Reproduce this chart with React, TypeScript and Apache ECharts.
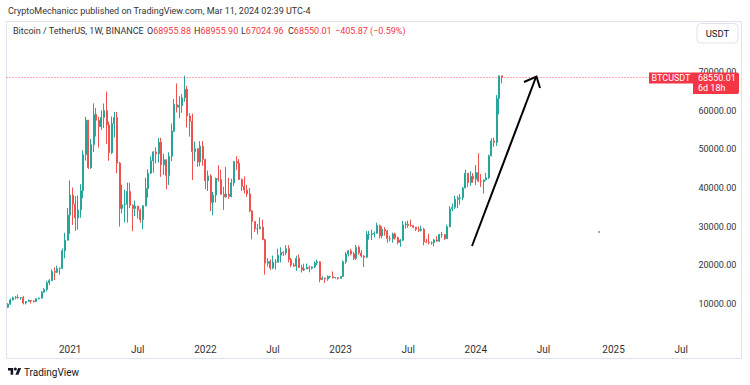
import React, { useEffect, useRef } from "react";
import * as echarts from "echarts";

// ---- data (weekly candles, Binance BTCUSDT) : [open, close, low, high]
const START_WEEK_UTC = Date.UTC(2020, 6, 20); // Monday 2020-07-20
const TOTAL_WEEKS = 265; // axis runs into 2025

const ohlc2020 = [
  [9160, 9930, 9030, 10200], [9930, 11050, 9900, 11450], [11050, 11650, 10950, 11900],
  [11650, 11750, 11200, 12100], [11750, 11650, 11350, 12470], [11650, 11650, 11100, 11800],
  [11650, 10250, 9900, 12090], [10250, 10650, 9880, 10600], [10650, 10930, 10630, 11180],
  [10930, 10770, 10140, 10980], [10770, 10670, 10370, 10960], [10670, 11370, 10520, 11500],
  [11370, 11500, 11180, 11720], [11500, 13030, 11400, 13350], [13030, 13760, 12950, 14100],
  [13760, 15480, 13200, 15960], [15480, 16050, 14860, 16480], [16050, 18400, 15900, 18950],
  [18400, 18180, 16200, 19480], [18180, 19150, 18000, 19900], [19150, 19270, 17580, 19420],
  [19270, 23750, 19000, 24300], [23750, 26500, 21800, 28400], [26500, 33000, 26400, 34800],
];
const ohlc2021 = [
  [33000, 38150, 28130, 41950], [38150, 35800, 30420, 40100], [35800, 32250, 28850, 37850],
  [32250, 34300, 29250, 38000], [34300, 39250, 32300, 40950], [39250, 48600, 37350, 49700],
  [48600, 57500, 47050, 58350], [57500, 45200, 44900, 57550], [45200, 51200, 44950, 52650],
  [51200, 59000, 49250, 61850], [59000, 57500, 53300, 60650], [57500, 55800, 50400, 58400],
  [55800, 58200, 55000, 60000], [58200, 60000, 55500, 61800], [60000, 56250, 51300, 64900],
  [56250, 49100, 47000, 57100], [49100, 56600, 48750, 58450], [56600, 58200, 53050, 59650],
  [58200, 46400, 43800, 59600], [46400, 34700, 30000, 46700], [34700, 35650, 33400, 40850],
  [35650, 35800, 31100, 39500], [35800, 39100, 31000, 41350], [39100, 35500, 34800, 41300],
  [35500, 34700, 28800, 35750], [34700, 35300, 32700, 36700], [35300, 34250, 32100, 35300],
  [34250, 31800, 31000, 34650], [31800, 35400, 29300, 34800], [35400, 39850, 35200, 42600],
  [39850, 43800, 37500, 44800], [43800, 47000, 43600, 48150], [47000, 49300, 43950, 49500],
  [49300, 48800, 46300, 50500], [48800, 51800, 46500, 52950], [51800, 46000, 42850, 52950],
  [46000, 47250, 43350, 48850], [47250, 43200, 39600, 47350], [43200, 48200, 40750, 49200],
  [48200, 54650, 46950, 56600], [54650, 61550, 54400, 62950], [61550, 60850, 59500, 67000],
  [60850, 61300, 58000, 63700], [61300, 63300, 59400, 64300], [63300, 65500, 62300, 69000],
  [65500, 58600, 55600, 66400], [58600, 57250, 53250, 59300], [57250, 49400, 42000, 59200],
  [49400, 50100, 46900, 51950], [50100, 46700, 45450, 50200], [46700, 50800, 45550, 52100],
  [50800, 47300, 45700, 52100],
];
const ohlc2022 = [
  [47300, 41850, 39650, 47550], [41850, 43100, 39200, 44500], [43100, 36250, 34000, 43500],
  [36250, 38150, 32900, 38950], [38150, 42400, 36250, 42650], [42400, 42200, 41650, 45850],
  [42200, 38350, 39450, 44750], [38350, 37700, 34300, 40300], [37700, 38400, 37450, 45400],
  [38400, 37800, 37150, 42600], [37800, 41300, 37550, 42350], [41300, 46800, 40450, 46900],
  [46800, 46400, 44650, 48200], [46400, 42150, 42100, 47450], [42150, 40400, 39200, 42450],
  [40400, 39450, 38550, 42950], [39450, 38450, 37700, 40800], [38450, 34050, 33700, 40000],
  [34050, 31300, 26700, 34250], [31300, 29450, 28650, 31300], [29450, 29450, 28000, 30650],
  [29450, 29900, 29300, 32400], [29900, 26600, 26550, 31800], [26600, 20550, 17600, 26900],
  [20550, 21000, 19650, 21850], [21000, 19300, 18800, 21550], [19300, 20800, 19000, 22500],
  [20800, 20800, 18900, 21600], [20800, 22600, 20750, 24300], [22600, 23300, 20700, 24650],
  [23300, 23200, 22400, 23650], [23200, 24300, 22650, 25200], [24300, 21500, 20750, 25200],
  [21500, 20050, 19500, 21900], [20050, 19800, 19550, 20600], [19800, 21800, 18550, 22500],
  [21800, 19400, 19300, 22800], [19400, 18800, 18150, 20150], [18800, 19050, 18500, 20400],
  [19050, 19400, 19050, 20450], [19400, 19250, 18200, 19950], [19250, 19550, 18900, 19700],
  [19550, 20600, 19250, 21000], [20600, 20900, 20050, 21450], [20900, 16300, 15600, 21050],
  [16300, 16700, 16250, 17200], [16700, 16450, 15450, 16800], [16450, 17100, 16000, 17400],
  [17100, 17100, 16700, 17300], [17100, 16800, 16550, 18400], [16800, 16850, 16550, 16950],
  [16850, 16600, 16300, 16950],
];
const ohlc2023 = [
  [16600, 17100, 16500, 17200], [17100, 20900, 17100, 21250], [20900, 22900, 20400, 23400],
  [22900, 23750, 22300, 23950], [23750, 22950, 22550, 24250], [22950, 21800, 21350, 23450],
  [21800, 24650, 21400, 25250], [24650, 23200, 22750, 25100], [23200, 22400, 21950, 23900],
  [22400, 22100, 19550, 22600], [22100, 27950, 21900, 28850], [27950, 27950, 26600, 28900],
  [27950, 28150, 26550, 29200], [28150, 28300, 27200, 28750], [28300, 30300, 28150, 31000],
  [30300, 27600, 26950, 30500], [27600, 29250, 26950, 30050], [29250, 28850, 27650, 29850],
  [28850, 26900, 25800, 29150], [26900, 26850, 26150, 27650], [26850, 28100, 25850, 28450],
  [28100, 27100, 26600, 28450], [27100, 25900, 25350, 27400], [25900, 26500, 24800, 26800],
  [26500, 30450, 26250, 31450], [30450, 30600, 29500, 31300], [30600, 30300, 29700, 31550],
  [30300, 30250, 29950, 31800], [30250, 29850, 29550, 30350], [29850, 29300, 28850, 29950],
  [29300, 29050, 28600, 30050], [29050, 29300, 28750, 30250], [29300, 26100, 25150, 29700],
  [26100, 26000, 25750, 26800], [26000, 25850, 25400, 28150], [25850, 25850, 25350, 26150],
  [25850, 26550, 24900, 26850], [26550, 26250, 26000, 27500], [26250, 27950, 26050, 28050],
  [27950, 27950, 27150, 28600], [27950, 26850, 26550, 28000], [26850, 29950, 26850, 30500],
  [29950, 34550, 29850, 35300], [34550, 35000, 33950, 35950], [35000, 37050, 34500, 38000],
  [37050, 37350, 34800, 37950], [37350, 37450, 35650, 38450], [37450, 39950, 36800, 40250],
  [39950, 43800, 39950, 44700], [43800, 41350, 40200, 43850], [41350, 43000, 40550, 44300],
  [43000, 42300, 41300, 43800],
];
const ohlc2024 = [
  [42300, 43950, 40750, 45900], [43950, 41750, 41500, 48950], [41750, 41600, 40250, 43600],
  [41600, 42050, 38550, 42200], [42050, 42600, 41900, 43900], [42600, 48300, 42300, 48600],
  [48300, 52150, 48150, 52800], [52150, 51750, 50600, 52950], [51750, 63100, 50850, 64000],
  [63100, 68955.88, 59000, 69000], [68955.88, 68550.01, 67024.96, 68955.9],
];

const headerText = "CryptoMechanicc published on TradingView.com, Mar 11, 2024 02:39 UTC-4";
const symbolText = "Bitcoin / TetherUS, 1W, BINANCE";
const lastOpen = "68955.88";
const lastHigh = "68955.90";
const lastLow = "67024.96";
const lastClose = 68550.01;
const lastChange = "\u2212405.87 (\u22120.59%)";
const countdown = "6d 18h";

const UP = "#26a69a";
const DOWN = "#ef5350";
const RED = "#f23645";
const FONT = "Roboto, 'Noto Sans', sans-serif";

const TV_LOGO = "M14 22H7V11H0V4h14v18zM28 22h-8l7.5-18h8L28 22z";
let logoRegistered = false;

export default function App() {
  const ref = useRef<HTMLDivElement>(null);
  useEffect(() => {
    document.body.style.margin = "0";
    if (!logoRegistered) {
      echarts.graphic.registerShape("tvlogo", echarts.graphic.extendPath(TV_LOGO, {}));
      logoRegistered = true;
    }
    const chart = echarts.init(ref.current!, null, { renderer: "svg" });

    const weeks: string[] = [];
    for (let i = 0; i < TOTAL_WEEKS; i++) {
      weeks.push(new Date(START_WEEK_UTC + i * 7 * 86400000).toISOString().slice(0, 10));
    }
    const candles = [...ohlc2020, ...ohlc2021, ...ohlc2022, ...ohlc2023, ...ohlc2024];

    const isLabel = (v: string) => {
      const m = v.slice(5, 7);
      const d = +v.slice(8, 10);
      return d <= 7 && (m === "01" || m === "07");
    };

    chart.setOption({
      animation: false,
      grid: { left: 6.5, right: 54.5, top: 33.1, bottom: 42.3 },
      xAxis: {
        type: "category",
        data: weeks,
        boundaryGap: true,
        axisLine: { show: false },
        axisTick: { show: false },
        splitLine: { show: false },
        axisLabel: {
          interval: (_i: number, v: string) => isLabel(v),
          formatter: (v: string) => (v.slice(5, 7) === "01" ? v.slice(0, 4) : "Jul"),
          color: "#333",
          fontSize: 10,
          fontFamily: FONT,
          margin: 2,
        },
      },
      yAxis: {
        type: "value",
        position: "right",
        min: 0,
        max: 80000,
        interval: 10000,
        axisLine: { show: false },
        axisTick: { show: false },
        splitLine: { show: false },
        axisLabel: {
          showMinLabel: false,
          showMaxLabel: false,
          formatter: (v: number) => v.toFixed(2),
          color: "#333",
          fontSize: 9,
          fontFamily: FONT,
          margin: 3,
          align: "left",
        },
      },
      series: [
        {
          type: "candlestick",
          data: candles,
          barWidth: 1.6,
          itemStyle: {
            color: UP,
            color0: DOWN,
            borderColor: UP,
            borderColor0: DOWN,
            borderWidth: 1,
          },
          markLine: {
            silent: true,
            symbol: ["none", "none"],
            label: { show: false },
            lineStyle: { color: RED, type: [1, 2], width: 1, opacity: 0.8 },
            data: [{ yAxis: lastClose }],
          },
        },
      ],
    });

    const py = chart.convertToPixel({ yAxisIndex: 0 }, lastClose) as number;
    const f = (s: number) => `${s}px ${FONT}`;
    const ohlcRich = { k: { fill: "#333", font: f(9) }, v: { fill: RED, font: f(9) } };

    chart.setOption({
      graphic: [
        { type: "rect", z: 0, shape: { x: 6.5, y: 21.5, width: 735, height: 337 }, style: { fill: "none", stroke: "#e0e3eb", lineWidth: 1 } },
        { type: "text", x: 8, y: 6, style: { text: headerText, fill: "#333", font: f(9) } },
        { type: "text", x: 13, y: 26, style: { text: symbolText, fill: "#333", font: f(9) } },
        { type: "text", x: 147, y: 26, style: { text: `{k|O}{v|${lastOpen}}`, rich: ohlcRich } },
        { type: "text", x: 194, y: 26, style: { text: `{k|H}{v|${lastHigh}}`, rich: ohlcRich } },
        { type: "text", x: 241, y: 26, style: { text: `{k|L}{v|${lastLow}}`, rich: ohlcRich } },
        { type: "text", x: 288, y: 26, style: { text: `{k|C}{v|${lastClose.toFixed(2)}}`, rich: ohlcRich } },
        { type: "text", x: 335, y: 26, style: { text: lastChange, fill: RED, font: f(9) } },
        { type: "rect", shape: { x: 697, y: 23.5, width: 41, height: 19.5, r: 4 }, style: { fill: "#fff", stroke: "#e0e3eb", lineWidth: 1 } },
        { type: "text", x: 717.5, y: 33.3, style: { text: "USDT", fill: "#131722", font: f(9.5), align: "center", verticalAlign: "middle" } },
        { type: "rect", z: 10, shape: { x: 649, y: py - 5, width: 44, height: 11 }, style: { fill: RED } },
        { type: "text", z: 11, x: 671, y: py + 0.5, style: { text: "BTCUSDT", fill: "#fff", font: f(9), align: "center", verticalAlign: "middle" } },
        { type: "rect", z: 10, shape: { x: 693, y: py - 5, width: 46, height: 21.5, r: [0, 2, 2, 0] }, style: { fill: RED } },
        { type: "text", z: 11, x: 698, y: py + 0.5, style: { text: lastClose.toFixed(2), fill: "#fff", font: f(9), verticalAlign: "middle" } },
        { type: "text", z: 11, x: 698, y: py + 11, style: { text: countdown, fill: "#fff", font: f(9), verticalAlign: "middle" } },
        { type: "line", z: 20, shape: { x1: 472, y1: 246, x2: 536, y2: 77 }, style: { stroke: "#000", lineWidth: 2 } },
        { type: "polyline", z: 20, shape: { points: [[524, 82], [536.5, 76.5], [540, 88]] }, style: { stroke: "#000", lineWidth: 2, fill: "none" } },
        { type: "circle", shape: { cx: 599, cy: 232, r: 1 }, style: { fill: "#9598a1" } },
        { type: "tvlogo", x: 8, y: 366.5, scaleX: 0.37, scaleY: 0.37, style: { fill: "#131722" } },
        { type: "circle", shape: { cx: 8 + 20 * 0.37, cy: 366.5 + 7 * 0.37, r: 1.5 }, style: { fill: "#131722" } },
        { type: "text", x: 24, y: 367, style: { text: "TradingView", fill: "#131722", font: f(10) } },
      ],
    });

    return () => chart.dispose();
  }, []);
  return <div ref={ref} style={{ width: 750, height: 385 }} />;
}
